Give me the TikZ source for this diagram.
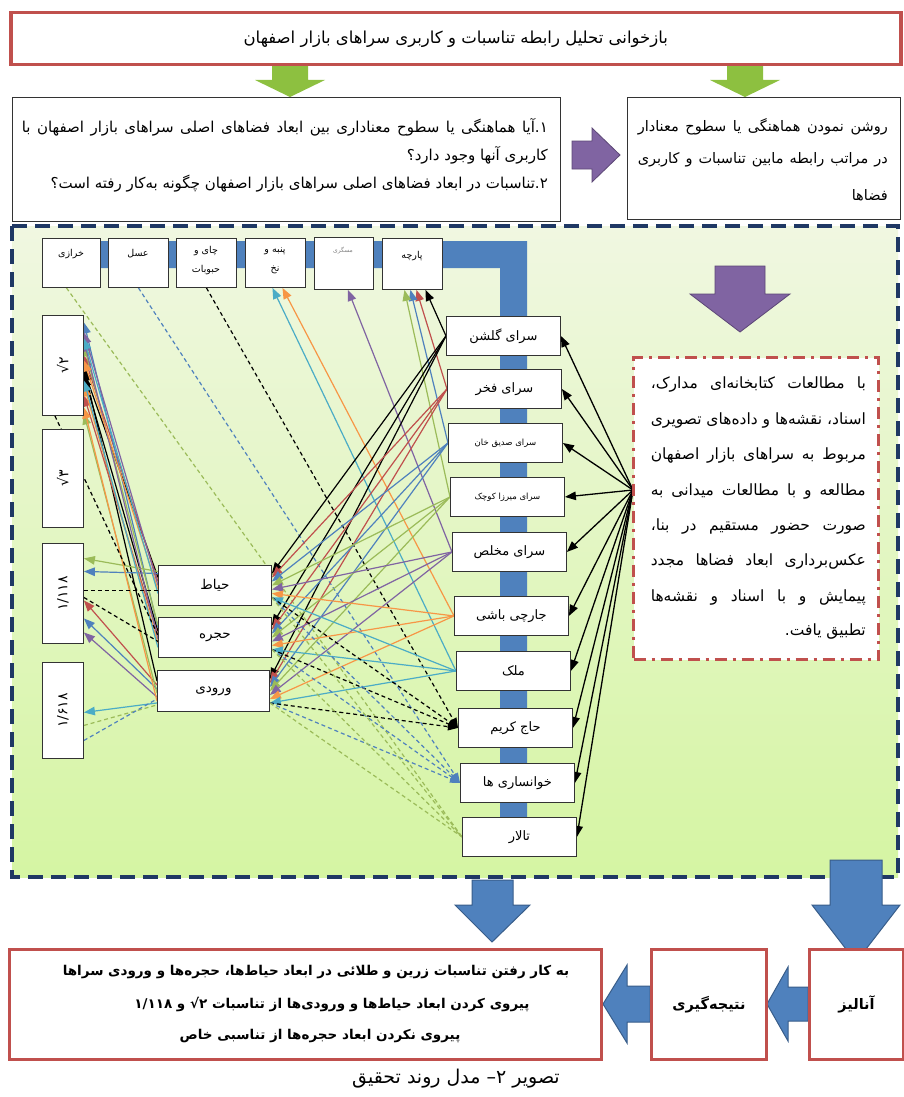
\documentclass[tikz,border=0pt]{standalone}
\usepackage{fontspec}
\newfontfamily\fa[Script=Arabic]{DejaVu Sans}
\TeXXeTstate=1
\usetikzlibrary{arrows.meta}
\definecolor{oBlue}{HTML}{4F81BD}
\definecolor{oBlueD}{HTML}{385D8A}
\definecolor{oRed}{HTML}{C0504D}
\definecolor{oGreen}{HTML}{9BBB59}
\definecolor{oPurple}{HTML}{8064A2}
\definecolor{oPurpleD}{HTML}{5C4776}
\definecolor{oAqua}{HTML}{4BACC6}
\definecolor{oOrange}{HTML}{F79646}
\definecolor{navyB}{HTML}{1F3864}
\definecolor{boxRed}{HTML}{C0504D}
\definecolor{arrGreen}{HTML}{8DC040}
\definecolor{bgTop}{HTML}{F0F7E1}
\definecolor{bgBot}{HTML}{D5F5A3}
\newcommand{\mysz}[1]{\fa\fontsize{#1}{#1}\selectfont}
\newcommand{\sqrtwo}{\mbox{√}\mbox{۲}}
\newcommand{\sqrthree}{\mbox{√}\mbox{۳}}
\pgfdeclarelayer{bg}
\pgfdeclarelayer{ln}
\pgfsetlayers{bg,ln,main}
\begin{document}
\begin{tikzpicture}[x=1pt,y=-1pt,
  every node/.style={font=\fa},
  conn/.style={line width=1.2pt,-{Triangle[length=11pt,width=8.5pt]}},
  dconn/.style={line width=1.2pt,dash pattern=on 4pt off 3pt},
  dconnA/.style={dconn,-{Triangle[length=10pt,width=7.5pt]}},
  dconnN/.style={dconn},
  plainbox/.style={draw=black!80,line width=0.9pt,fill=white,anchor=north west,inner sep=0pt},
  redbox/.style={draw=boxRed,line width=3pt,fill=white,anchor=north west,inner sep=0pt},
  txt/.style={inner sep=0pt},
  garrow/.style={fill=arrGreen},
  parrow/.style={fill=oPurple,draw=oPurpleD,line width=0.8pt},
  barrow/.style={fill=oBlue,draw=oBlueD,line width=1pt},
]
\useasboundingbox (0,0) rectangle (904,1097);

% ---------- background layer ----------
\begin{pgfonlayer}{bg}
\fill[white] (0,0) rectangle (904,1097);
\path[top color=bgTop,bottom color=bgBot] (12,226) rectangle (898,877);
\draw[navyB,line width=4pt,dash pattern=on 15pt off 8pt] (12,226) rectangle (898,877);
% blue bar
\fill[oBlue] (50,241) -- (527,241) -- (527,845) -- (500,845) -- (500,268) -- (50,268) -- cycle;
% green arrows
\fill[garrow] (272,64) -- (308,64) -- (308,80) -- (325,80) -- (290,97) -- (255,80) -- (272,80) -- cycle;
\fill[garrow] (727,64) -- (763,64) -- (763,80) -- (780,80) -- (745,97) -- (710,80) -- (727,80) -- cycle;
% purple arrows
\path[parrow] (572,141) -- (592,141) -- (592,128) -- (620,155) -- (592,182) -- (592,169) -- (572,169) -- cycle;
\path[parrow] (715,266) -- (765,266) -- (765,294) -- (790,294) -- (740,332) -- (690,294) -- (715,294) -- cycle;
% blue block arrows
\path[barrow] (472,880) -- (513,880) -- (513,905) -- (530,905) -- (492,942) -- (455,905) -- (472,905) -- cycle;
\path[barrow] (830,860) -- (882,860) -- (882,905) -- (900,905) -- (856,962) -- (812,905) -- (830,905) -- cycle;
\path[barrow] (808,987) -- (788,987) -- (788,967) -- (767,1004) -- (788,1041) -- (788,1021) -- (808,1021) -- cycle;
\path[barrow] (650,986) -- (627,986) -- (627,965) -- (603,1004) -- (627,1043) -- (627,1022) -- (650,1022) -- cycle;
\end{pgfonlayer}

% ---------- top part ----------
\node[redbox,line width=3.5pt,minimum width=890pt,minimum height=52pt,font=\mysz{16.5}] (title) at (9,11) {\beginR بازخوانی تحلیل رابطه تناسبات و کاربری سراهای بازار اصفهان\endR};

\node[plainbox,minimum width=548pt,minimum height=124pt] (qbox) at (12,97) {};
\node[txt,anchor=east,font=\mysz{15}] (q1) at (548,127) {\makebox[526pt][s]{\beginR ۱.آیا هماهنگی یا سطوح معناداری بین ابعاد فضاهای اصلی سراهای بازار اصفهان با\endR}};
\node[txt,anchor=east,font=\mysz{15}] (q2) at (548,155) {\beginR کاربری آنها وجود دارد؟\endR};
\node[txt,anchor=east,font=\mysz{15}] (q3) at (548,184) {\beginR ۲.تناسبات در ابعاد فضاهای اصلی سراهای بازار اصفهان چگونه به^^^^200cکار رفته است؟\endR};

\node[plainbox,minimum width=273pt,minimum height=122pt] (abox) at (627,97) {};
\node[txt,anchor=east,font=\mysz{14.5}] (a1) at (888,127) {\makebox[250pt][s]{\beginR روشن نمودن هماهنگی یا سطوح معنادار\endR}};
\node[txt,anchor=east,font=\mysz{14.5}] (a2) at (888,160) {\makebox[250pt][s]{\beginR در مراتب رابطه مابین تناسبات و کاربری\endR}};
\node[txt,anchor=east,font=\mysz{14.5}] (a3) at (888,195) {\beginR فضاها\endR};

% ---------- usage boxes (top row) ----------
\node[plainbox,minimum width=58pt,minimum height=49pt] (t1) at (42,238) {};
\node[plainbox,minimum width=60pt,minimum height=49pt] (t2) at (108,238) {};
\node[plainbox,minimum width=60pt,minimum height=49pt] (t3) at (176,238) {};
\node[plainbox,minimum width=60pt,minimum height=49pt] (t4) at (245,238) {};
\node[plainbox,minimum width=59pt,minimum height=52pt] (t5) at (314,237) {};
\node[plainbox,minimum width=60pt,minimum height=51pt] (t6) at (382,238) {};
\node[txt,font=\mysz{9.5}] (t1l) at (71,254) {\beginR خرازی\endR};
\node[txt,font=\mysz{9.5}] (t2l) at (138,254) {\beginR عسل\endR};
\node[txt,font=\mysz{9.5}] (t3l) at (206,251) {\beginR چای و\endR};
\node[txt,font=\mysz{9.5}] (t3m) at (206,270) {\beginR حبوبات\endR};
\node[txt,font=\mysz{9.5}] (t4l) at (275,251) {\beginR پنبه و\endR};
\node[txt,font=\mysz{9.5}] (t4m) at (275,270) {\beginR نخ\endR};
\node[txt,font=\mysz{6},text=black!50] (t5l) at (343,251) {\beginR مسگری\endR};
\node[txt,font=\mysz{9.5}] (t6l) at (412,256) {\beginR پارچه\endR};

% ---------- ratio boxes ----------
\node[plainbox,minimum width=41pt,minimum height=100pt] (r1) at (42,315) {};
\node[plainbox,minimum width=41pt,minimum height=98pt] (r2) at (42,429) {};
\node[plainbox,minimum width=41pt,minimum height=100pt] (r3) at (42,543) {};
\node[plainbox,minimum width=41pt,minimum height=96pt] (r4) at (42,662) {};
\node[txt,rotate=90,font=\mysz{14}] (r1l) at (r1.center) {\sqrtwo};
\node[txt,rotate=90,font=\mysz{14}] (r2l) at (r2.center) {\sqrthree};
\node[txt,rotate=90,font=\mysz{14}] (r3l) at (r3.center) {۱/۱۱۸};
\node[txt,rotate=90,font=\mysz{14}] (r4l) at (r4.center) {۱/۶۱۸};

% ---------- space boxes ----------
\node[plainbox,minimum width=113pt,minimum height=40pt,font=\mysz{13.5}] (hayat) at (158,565) {\beginR حیاط\endR};
\node[plainbox,minimum width=113pt,minimum height=40pt,font=\mysz{13.5}] (hojre) at (158,617) {\beginR حجره\endR};
\node[plainbox,minimum width=112pt,minimum height=41pt,font=\mysz{13.5}] (vorudi) at (157,670) {\beginR ورودی\endR};

% ---------- sarays ----------
\foreach \n/\x/\y/\lab/\f in {s1/446/316/سرای گلشن/13, s2/447/369/سرای فخر/13, s3/448/423/سرای صدیق خان/8.5, s4/450/477/سرای میرزا کوچک/8.5, s5/452/532/سرای مخلص/13, s6/454/596/جارچی باشی/13, s7/456/651/ملک/13, s8/458/708/حاج کریم/13, s9/460/763/خوانساری ها/13, s10/462/817/تالار/13}
  \node[plainbox,minimum width=114pt,minimum height=39pt,font=\mysz{\f}] (\n) at (\x,\y) {\beginR\lab\endR};

% ---------- method box ----------
\node[plainbox,draw=boxRed,line width=3pt,dash pattern=on 12pt off 6pt on 3pt off 6pt,minimum width=245pt,minimum height=302pt] (mbox) at (632,356) {};
\foreach \i/\y/\lab in {1/385/با مطالعات کتابخانه^^^^200cای مدارک،, 2/420/اسناد، نقشه^^^^200cها و داده^^^^200cهای تصویری, 3/455/مربوط به سراهای بازار اصفهان, 4/491/مطالعه و با مطالعات میدانی به, 5/526/صورت حضور مستقیم در بنا،, 6/561/عکس^^^^200cبرداری ابعاد فضاها مجدد, 7/597/پیمایش و با اسناد و نقشه^^^^200cها}
  \node[txt,anchor=east,font=\mysz{15.5}] (m\i) at (866,\y) {\makebox[215pt][s]{\beginR\lab\endR}};
\node[txt,anchor=east,font=\mysz{15.5}] (m8) at (866,632) {\beginR تطبیق یافت.\endR};
\coordinate (src) at (633,490);

% ---------- bottom ----------
\node[redbox,minimum width=592pt,minimum height=110pt] (res) at (8,948) {};
\node[txt,font=\mysz{13.5}\bfseries] (res1) at (316,972) {\beginR به کار رفتن تناسبات زرین و طلائی در ابعاد حیاط^^^^200cها، حجره^^^^200cها و ورودی سراها\endR};
\node[txt,font=\mysz{13.5}\bfseries] (res2) at (332,1004) {\beginR پیروی کردن ابعاد حیاط^^^^200cها و ورودی^^^^200cها از تناسبات \beginL\sqrtwo\endL{} و \beginL۱/۱۱۸\endL\endR};
\node[txt,font=\mysz{13.5}\bfseries] (res3) at (320,1036) {\beginR پیروی نکردن ابعاد حجره^^^^200cها از تناسبی خاص\endR};
\node[redbox,minimum width=115pt,minimum height=110pt,font=\mysz{14.5}\bfseries] (conc) at (650,948) {\beginR نتیجه^^^^200cگیری\endR};
\node[redbox,minimum width=94pt,minimum height=110pt,font=\mysz{14.5}\bfseries] (anal) at (808,948) {\beginR آنالیز\endR};
\node[txt,font=\mysz{19}] (cap) at (456,1079) {\beginR تصویر ۲– مدل روند تحقیق\endR};

% ---------- connectors ----------
\begin{pgfonlayer}{ln}
% method source to sarays
\foreach \s in {s1,s2,s3,s4,s5,s6,s7,s8,s9,s10}
  \draw[conn,black,line width=1.3pt] (src) -- (\s.east);
% sarays to usages
\foreach \s/\c/\t/\o in {s1/black/t6/13pt, s2/oRed/t6/4pt, s3/oBlue/t6/-2pt, s4/oGreen/t6/-8pt, s5/oPurple/t5/4pt, s6/oOrange/t4/7pt, s7/oAqua/t4/-3pt}
  \draw[conn,\c] (\s.west) -- ([xshift=\o]\t.south);
\draw[dconnA,black] (t3.south) -- (s8.west);
\draw[dconnA,oBlue] (t2.south) -- (s9.west);
\draw[dconnN,oGreen] ([xshift=-5pt]t1.south) -- (s10.west);
% sarays to spaces
\foreach \s/\c/\o in {s1/black/12pt, s2/oRed/8pt, s3/oBlue/4pt, s4/oGreen/0pt, s5/oPurple/-4pt, s6/oOrange/-8pt, s7/oAqua/-12pt}
  \foreach \m in {hayat,hojre,vorudi}
    \draw[conn,\c] (\s.west) -- ([yshift=\o]\m.east);
\foreach \s/\c/\st in {s8/black/dconnA, s9/oBlue/dconnA, s10/oGreen/dconnN}
  \foreach \m in {hayat,hojre,vorudi}
    \draw[\st,\c] ([yshift=-12pt]\m.east) -- (\s.west);
% spaces to ratios
\foreach \c/\m/\so/\r/\ro in {
 black/hayat/8pt/r1/-5pt, black/hojre/6pt/r1/-10pt, black/vorudi/10pt/r1/-2pt,
 oRed/hayat/4pt/r1/10pt, oRed/hojre/2pt/r1/-30pt, oRed/vorudi/6pt/r3/-7pt,
 oBlue/hayat/12pt/r3/22pt, oBlue/hojre/10pt/r1/43pt, oBlue/vorudi/2pt/r3/-25pt,
 oGreen/hayat/14pt/r3/35pt, oGreen/hojre/12pt/r1/20pt, oGreen/vorudi/-2pt/r1/-48pt,
 oPurple/hayat/0pt/r1/33pt, oPurple/hojre/-2pt/r1/25pt, oPurple/vorudi/-6pt/r3/-39pt,
 oOrange/hayat/-4pt/r1/5pt, oOrange/hojre/-6pt/r1/-20pt, oOrange/vorudi/-10pt/r1/-42pt,
 oAqua/hayat/-8pt/r1/27pt, oAqua/hojre/-10pt/r1/-15pt, oAqua/vorudi/-12pt/r4/-2pt}
  \draw[conn,\c] ([yshift=\so]\m.west) -- ([yshift=\ro]\r.east);
\draw[dconnN,black] ([yshift=3pt]r3.east) -- ([yshift=-5pt]hayat.west);
\draw[dconnN,black] ([yshift=-4pt]r3.east) -- ([yshift=-4pt]hojre.west);
\draw[dconnN,black] ([xshift=-8pt]r1.south) -- ([yshift=2pt]hojre.west);
\draw[dconnN,oGreen] ([yshift=-15pt]r4.east) -- ([yshift=-14pt]vorudi.west);
\draw[dconnN,oBlue] ([yshift=-30pt]r4.east) -- ([yshift=-8pt]vorudi.west);
\end{pgfonlayer}
\end{tikzpicture}
\end{document}
